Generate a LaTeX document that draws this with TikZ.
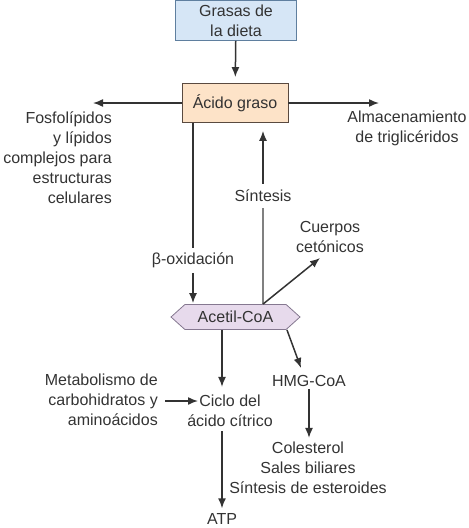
\documentclass[tikz,border=0pt]{standalone}
\usepackage{fontspec}
\setmainfont{Liberation Sans}
\usepackage{xcolor}
\usetikzlibrary{arrows.meta,shapes.symbols}

\definecolor{linegray}{HTML}{333333}
\definecolor{blueFill}{HTML}{D6E6F6}
\definecolor{blueLine}{HTML}{5F7F9F}
\definecolor{peachFill}{HTML}{FDE3C8}
\definecolor{peachLine}{HTML}{5A4A40}
\definecolor{lilacFill}{HTML}{E7DAEC}
\definecolor{lilacLine}{HTML}{857890}

\tikzset{
  lbl/.style={inner sep=0pt, align=center, text=linegray,
    font=\fontsize{16}{20}\selectfont},
  boxnode/.style={lbl, draw, line width=0.8pt},
  arr/.style={-{Latex[length=10pt,width=8pt]}, line width=1.5pt, draw=linegray},
  plain/.style={line width=1.5pt, draw=linegray}
}

\begin{document}
\begin{tikzpicture}[x=1pt, y=-1pt]
  \useasboundingbox (0,0) rectangle (469,528);

  % Boxes
  \node[boxnode, draw=blueLine, fill=blueFill, minimum width=121pt, minimum height=40pt]
    (grasas) at (236,20.5) {Grasas de\\la dieta};
  \node[boxnode, draw=peachLine, fill=peachFill, minimum width=106pt, minimum height=39pt]
    (acido) at (235,103) {Ácido graso};
  \node[lbl, shape=signal, signal to=west and east, signal pointer angle=84,
    draw=lilacLine, fill=lilacFill, line width=0.8pt, minimum width=129pt, minimum height=25pt]
    (acetil) at (235.5,317) {Acetil-CoA};

  % Labels
  \node[lbl, align=right, anchor=east] (fosfo) at (112,158)
    {Fosfolípidos\\y lípidos\\complejos para\\estructuras\\celulares};
  \node[lbl] (almac) at (407,128) {Almacenamiento\\de triglicéridos};
  \node[lbl] (sint) at (263,196) {Síntesis};
  \node[lbl] (beta) at (193,260) {β-oxidación};
  \node[lbl] (cuerpos) at (330,237) {Cuerpos\\cetónicos};
  \node[lbl, align=right, anchor=east] (metab) at (158,400)
    {Metabolismo de\\carbohidratos y\\aminoácidos};
  \node[lbl] (ciclo) at (230,411) {Ciclo del\\ácido cítrico};
  \node[lbl] (hmg) at (309,381) {HMG-CoA};
  \node[lbl] (coles) at (308,468) {Colesterol\\Sales biliares\\Síntesis de esteroides};
  \node[lbl] (atp) at (222,519) {ATP};

  % Free ends
  \coordinate (lt) at (93,103);
  \coordinate (rt) at (379,103);
  \coordinate (ct) at (320,258);
  \coordinate (hs) at (287,330);
  \coordinate (ht) at (301,368);
  \coordinate (ms) at (165,401);
  \coordinate (mt) at (198,401);

  % Connectors
  \draw[arr, shorten >=6pt] (grasas) -- (acido);
  \draw[arr] (acido.west) -- (lt);
  \draw[arr] (acido.east) -- (rt);
  \draw[plain] (acido.south -| beta) -- ([yshift=4pt]beta.north);
  \draw[arr, shorten >=1pt] ([yshift=-5pt]beta.south) -- (acetil.north -| beta);
  \draw[arr, shorten >=8pt] ([yshift=6pt]sint.north) -- (acido.south -| sint);
  \draw[line width=1.2pt, draw=gray] (acetil.north -| sint) -- ([yshift=-6pt]sint.south);
  \draw[arr] (acetil.north -| sint) -- (ct);
  \draw[arr, shorten >=8pt] (acetil.south -| atp) -- (ciclo.north -| atp);
  \draw[arr] (hs) -- (ht);
  \draw[arr, shorten <=2pt, shorten >=4pt] (hmg) -- (hmg |- coles.north);
  \draw[arr] (ms) -- (mt);
  \draw[arr, shorten <=4pt, shorten >=5pt] (ciclo.south -| atp) -- (atp);
\end{tikzpicture}
\end{document}
